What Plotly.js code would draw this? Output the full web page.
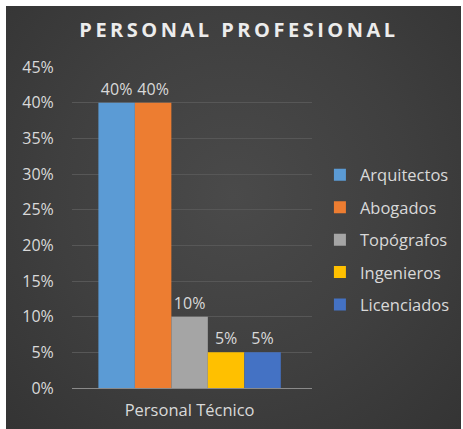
<!DOCTYPE html>
<html>
<head>
<meta charset="utf-8">
<script src="https://cdn.plot.ly/plotly-3.0.1.min.js"></script>
<style>
  html, body { margin:0; padding:0; background:#ffffff; width:463px; height:429px; overflow:hidden; }
  #wrap { position:absolute; left:6px; top:6px; width:455px; height:423px;
          background: radial-gradient(ellipse at 50% 45%, #4a4a4a 0%, #3f3f3f 55%, #343434 100%); }
  #chart { width:455px; height:423px; }
  .gtitle { letter-spacing: 3.5px; }
</style>
</head>
<body>
<div id="wrap"><div id="chart"></div></div>
<script>
const categories = ["Personal Técnico"];
const seriesNames = ["Arquitectos", "Abogados", "Topógrafos", "Ingenieros", "Licenciados"];
const seriesValues = [0.40, 0.40, 0.10, 0.05, 0.05];
const seriesColors = ["#5B9BD5", "#ED7D31", "#A5A5A5", "#FFC000", "#4472C4"];
const yTickValues = [0, 0.05, 0.10, 0.15, 0.20, 0.25, 0.30, 0.35, 0.40, 0.45];

const FONT = "'Open Sans', sans-serif";
const TXT = "#d9d9d9";

const traces = seriesNames.map((name, i) => ({
  type: "bar",
  name: name,
  x: categories,
  y: [seriesValues[i]],
  marker: { color: seriesColors[i] },
  text: [Math.round(seriesValues[i] * 100) + "%"],
  textposition: "outside",
  textfont: { family: FONT, size: 16, color: TXT },
  cliponaxis: false,
  legendgroup: "g" + i,
  hoverinfo: "none"
}));

const layout = {
  width: 455, height: 423,
  paper_bgcolor: "rgba(0,0,0,0)",
  plot_bgcolor: "rgba(0,0,0,0)",
  margin: { l: 66, r: 149, t: 61, b: 41, autoexpand: false },
  font: { family: FONT, color: TXT, size: 16 },
  title: {
    text: "<b>PERSONAL PROFESIONAL</b>",
    font: { family: FONT, size: 20, color: "#ececec" },
    x: 0.512, xanchor: "center",
    y: 0.944, yanchor: "middle", yref: "container"
  },
  barmode: "group",
  bargap: 0.24,
  bargroupgap: 0,
  showlegend: true,
  legend: {
    x: 1.033, xanchor: "left",
    y: 0.461, yanchor: "middle",
    font: { family: FONT, size: 16.5, color: TXT },
    tracegroupgap: 8,
    bgcolor: "rgba(0,0,0,0)"
  },
  xaxis: {
    type: "category",
    range: [-0.49, 0.51],
    showgrid: false,
    showline: true,
    linecolor: "#8a8a8a",
    linewidth: 1,
    ticks: "outside", ticklen: 7, tickcolor: "rgba(0,0,0,0)",
    tickfont: { family: FONT, size: 16.5, color: TXT },
    fixedrange: true
  },
  yaxis: {
    range: [0, 0.45],
    tickvals: yTickValues,
    tickformat: ".0%",
    showgrid: true,
    gridcolor: "#575757",
    gridwidth: 1,
    zeroline: false,
    showline: false,
    ticks: "outside", ticklen: 14, tickcolor: "rgba(0,0,0,0)",
    tickfont: { family: FONT, size: 16, color: TXT },
    fixedrange: true
  }
};

Plotly.newPlot("chart", traces, layout, { displayModeBar: false, staticPlot: true });
</script>
</body>
</html>
